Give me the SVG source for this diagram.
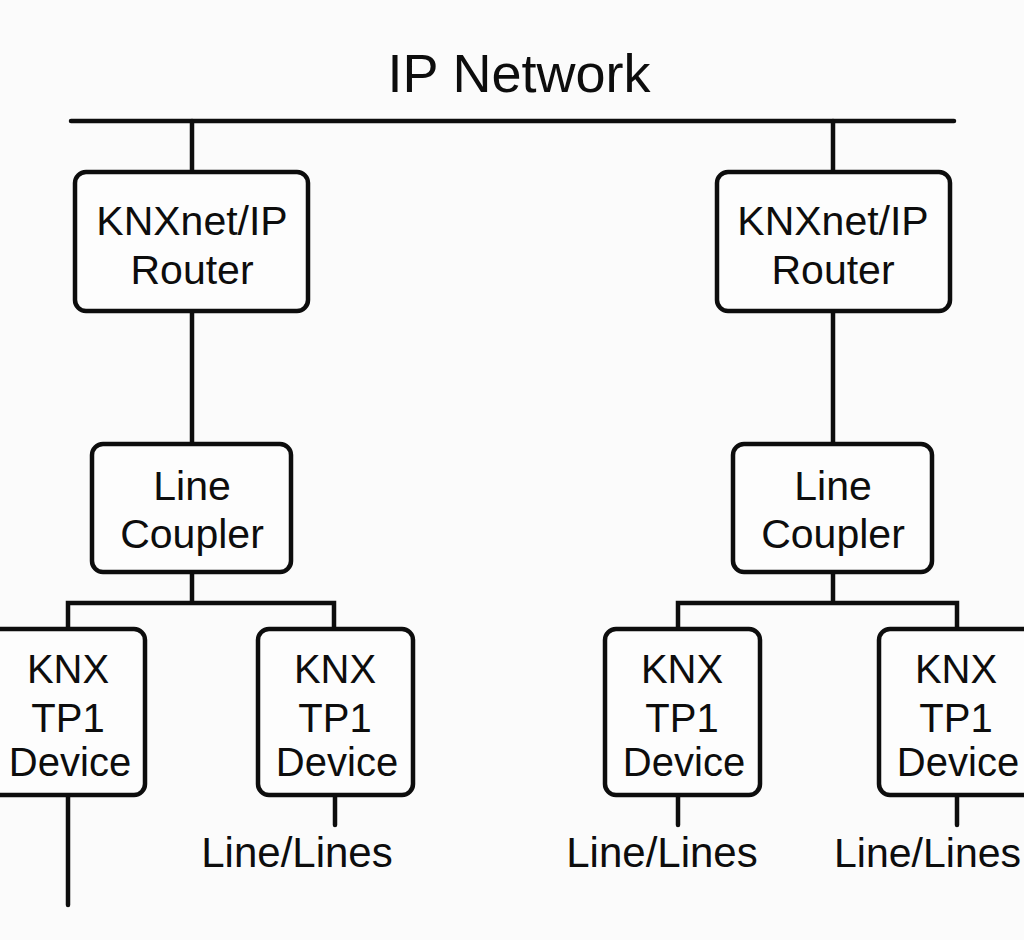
<svg xmlns="http://www.w3.org/2000/svg" width="1024" height="940" viewBox="0 0 1024 940">
<style>
.bg{fill:#fbfbfb}
.box{fill:#fdfdfd;stroke:#0d0d0d;stroke-width:4.5}
.ln{fill:none;stroke:#0d0d0d;stroke-width:4.5;stroke-linecap:round;stroke-linejoin:miter}
text{font-family:"Liberation Sans",Arial,sans-serif;fill:#0d0d0d;text-anchor:middle}
.t1{font-size:54px}
.t2{font-size:41px}
.t3{font-size:40px}
.t4{font-size:42px}
</style>
<rect class="bg" x="0" y="0" width="1024" height="940"/>
<text class="t1" x="519" y="92">IP Network</text>
<g id="connectors">
<path class="ln" d="M71 121 H954"/>
<path class="ln" d="M192 121 V172 M833 121 V172"/>
<path class="ln" d="M192 311 V444 M833 311 V444"/>
<path class="ln" d="M192 572 V603 M68 629 V603 H334 V629"/>
<path class="ln" d="M833 572 V603 M678 629 V603 H957 V629"/>
<path class="ln" d="M68 795 V905"/>
<path class="ln" d="M335 795 V825 M678 795 V825 M957 795 V825"/>
</g>
<g id="router-left">
<rect class="box" x="75" y="172" width="233" height="139" rx="11"/>
<text class="t2" x="192" y="235">KNXnet/IP</text>
<text class="t2" x="192" y="284">Router</text>
</g>
<g id="router-right">
<rect class="box" x="717" y="172" width="233" height="139" rx="11"/>
<text class="t2" x="833" y="235">KNXnet/IP</text>
<text class="t2" x="833" y="284">Router</text>
</g>
<g id="coupler-left">
<rect class="box" x="92" y="444" width="199" height="128" rx="11"/>
<text class="t2" x="192" y="500">Line</text>
<text class="t2" x="192" y="548">Coupler</text>
</g>
<g id="coupler-right">
<rect class="box" x="733" y="444" width="199" height="128" rx="11"/>
<text class="t2" x="833" y="500">Line</text>
<text class="t2" x="833" y="548">Coupler</text>
</g>
<g id="device-1">
<rect class="box" x="-10" y="629" width="155" height="166" rx="11"/>
<text class="t3" x="68" y="683">KNX</text>
<text class="t3" x="68" y="732">TP1</text>
<text class="t3" x="70" y="776">Device</text>
</g>
<g id="device-2">
<rect class="box" x="258" y="629" width="155" height="166" rx="11"/>
<text class="t3" x="335" y="683">KNX</text>
<text class="t3" x="335" y="732">TP1</text>
<text class="t3" x="337" y="776">Device</text>
</g>
<g id="device-3">
<rect class="box" x="605" y="629" width="155" height="166" rx="11"/>
<text class="t3" x="682" y="683">KNX</text>
<text class="t3" x="682" y="732">TP1</text>
<text class="t3" x="684" y="776">Device</text>
</g>
<g id="device-4">
<rect class="box" x="879" y="629" width="155" height="166" rx="11"/>
<text class="t3" x="956" y="683">KNX</text>
<text class="t3" x="956" y="732">TP1</text>
<text class="t3" x="958" y="776">Device</text>
</g>
<g id="labels">
<text class="t4" x="297" y="867">Line/Lines</text>
<text class="t4" x="662" y="867">Line/Lines</text>
<text class="t2" x="1021" y="867" style="text-anchor:end">Line/Lines</text>
</g>
</svg>
